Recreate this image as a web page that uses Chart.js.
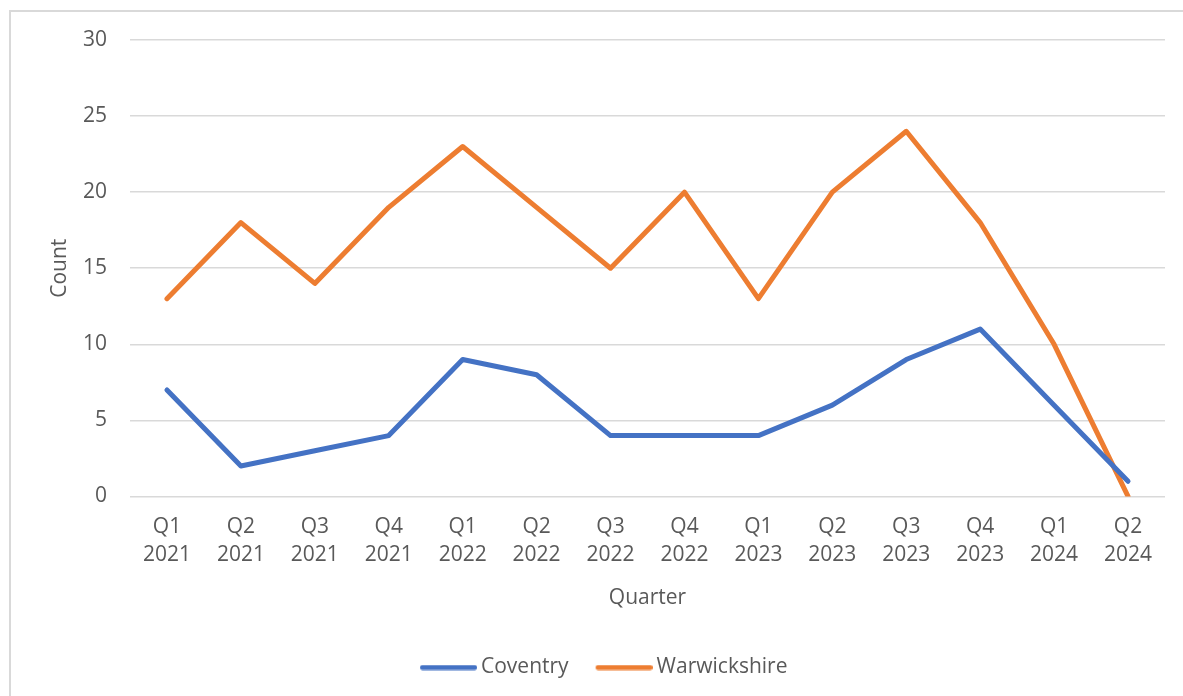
<!DOCTYPE html>
<html>
<head>
<meta charset="utf-8">
<script src="https://cdn.jsdelivr.net/npm/chart.js@4"></script>
<style>
  html, body { margin: 0; padding: 0; background: #fff; overflow: hidden; }
  #wrap { position: relative; width: 1183px; height: 696px; }
  #frame { position: absolute; left: 9px; top: 10px; width: 1200px; height: 720px; border: 2px solid #d9d9d9; box-sizing: border-box; pointer-events: none; }
  canvas { position: absolute; left: 0; top: 0; }
</style>
</head>
<body>
<div id="wrap">
  <canvas id="c" width="1183" height="696"></canvas>
  <div id="frame"></div>
</div>
<script>
const quarters = ['Q1','Q2','Q3','Q4','Q1','Q2','Q3','Q4','Q1','Q2','Q3','Q4','Q1','Q2'];
const years = ['2021','2021','2021','2021','2022','2022','2022','2022','2023','2023','2023','2023','2024','2024'];
const coventry = [7, 2, 3, 4, 9, 8, 4, 4, 4, 6, 9, 11, 6, 1];
const warwickshire = [13, 18, 14, 19, 23, 19, 15, 20, 13, 20, 24, 18, 10, 0];
const yTicks = [0, 5, 10, 15, 20, 25, 30];

const labels = quarters.map((q, i) => [q, years[i]]);

Chart.defaults.font.family = "'Open Sans', 'Liberation Sans', sans-serif";
Chart.defaults.font.size = 21;
Chart.defaults.color = '#595959';

const LEFT_PAD = 36;

function legendLine(color) {
  const c = document.createElement('canvas');
  c.width = 70; c.height = 6;
  const g = c.getContext('2d');
  g.strokeStyle = color; g.lineWidth = 5; g.lineCap = 'round';
  g.beginPath(); g.moveTo(15.5, 3); g.lineTo(67.5, 3); g.stroke();
  return c;
}

new Chart(document.getElementById('c'), {
  type: 'line',
  data: {
    labels: labels,
    datasets: [
      { label: 'Coventry', data: coventry, borderColor: '#4472C4', backgroundColor: '#4472C4',
        borderWidth: 5, pointRadius: 0, tension: 0, borderCapStyle: 'round', borderJoinStyle: 'round', pointStyle: legendLine('#4472C4') },
      { label: 'Warwickshire', data: warwickshire, borderColor: '#ED7D31', backgroundColor: '#ED7D31',
        borderWidth: 5, pointRadius: 0, tension: 0, borderCapStyle: 'round', borderJoinStyle: 'round', pointStyle: legendLine('#ED7D31') }
    ]
  },
  options: {
    responsive: false,
    animation: false,
    devicePixelRatio: 1,
    layout: { padding: { left: LEFT_PAD, right: 18, top: 40, bottom: 8 } },
    plugins: {
      tooltip: { enabled: false },
      legend: {
        position: 'bottom',
        labels: {
          usePointStyle: true,
          pointStyleWidth: 57,
          boxHeight: 6,
          padding: 20.5,
          font: { size: 21 },
          color: '#595959'
        }
      }
    },
    scales: {
      x: {
        offset: true,
        grid: { display: false, drawTicks: false },
        border: { display: false },
        ticks: { padding: 17, maxRotation: 0, autoSkip: false, font: { size: 21, lineHeight: 1.33 } },
        title: { display: true, text: 'Quarter', font: { size: 21 }, padding: { top: -1, bottom: 26 } }
      },
      y: {
        min: 0, max: 30,
        afterBuildTicks: (axis) => { axis.ticks = yTicks.map(v => ({ value: v })); },
        afterFit: (axis) => { axis.width = 130 - LEFT_PAD; },
        grid: { color: '#d9d9d9', lineWidth: 1.5, drawTicks: false },
        border: { display: false },
        ticks: { padding: 23, font: { size: 21 } },
        title: { display: true, text: 'Count', font: { size: 21 }, padding: { top: 37 - (LEFT_PAD - 10), bottom: 0 } }
      }
    }
  }
});
</script>
</body>
</html>
